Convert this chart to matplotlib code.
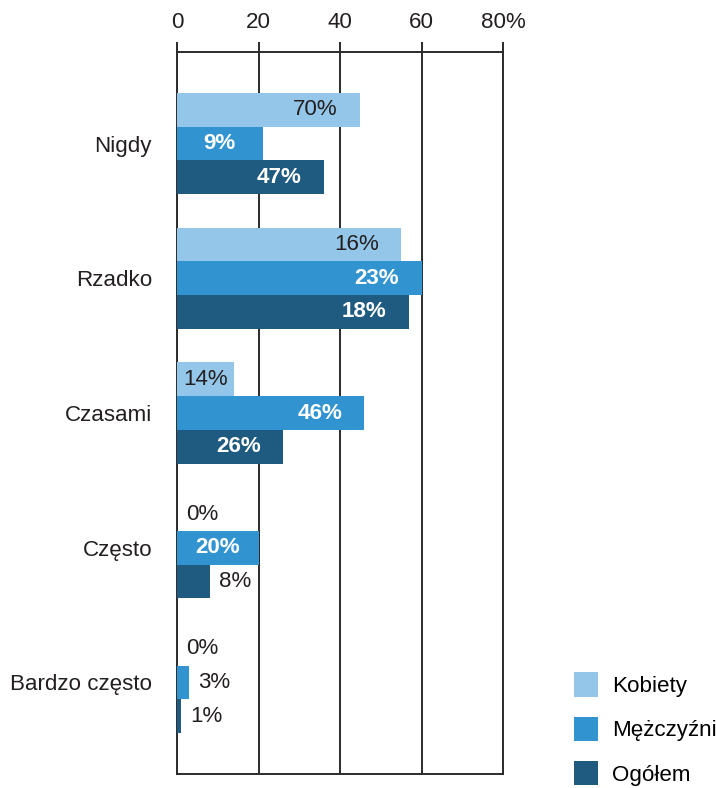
import numpy as np
import matplotlib
matplotlib.use("Agg")
import matplotlib.pyplot as plt
from matplotlib.patches import Patch

plt.rcParams['font.family'] = ['Liberation Sans', 'DejaVu Sans']

# --- Data ---
categories = ["Nigdy", "Rzadko", "Czasami", "Często", "Bardzo często"]
series_names = ["Kobiety", "Mężczyźni", "Ogółem"]

# bar lengths as drawn in the picture
kobiety = [45, 55, 14, 0, 0]
mezczyzni = [21, 60, 46, 20, 3]
ogolem = [36, 57, 26, 8, 1]

# value labels printed on the bars
labels_kobiety = ["70%", "16%", "14%", "0%", "0%"]
labels_mezczyzni = ["9%", "23%", "46%", "20%", "3%"]
labels_ogolem = ["47%", "18%", "26%", "8%", "1%"]

x_ticks = [0, 20, 40, 60, 80]
x_tick_labels = ["0", "20", "40", "60", "80%"]

colors = ["#93C6E8", "#3194D0", "#1F5A80"]
text_dark = "#231F20"
line_color = "#2B2B2B"
fs = 16.1

# --- Plot ---
fig = plt.figure(figsize=(7.16, 7.88), dpi=100)
ax = fig.add_axes([177 / 716, 14 / 788, 326 / 716, 722 / 788])

y = np.arange(len(categories))
h = 0.25
series = [kobiety, mezczyzni, ogolem]
series_labels = [labels_kobiety, labels_mezczyzni, labels_ogolem]

for i, (vals, labs, col) in enumerate(zip(series, series_labels, colors)):
    ypos = y + (i - 1) * h
    ax.barh(ypos, vals, height=h, color=col, zorder=2)
    for yy, v, lab in zip(ypos, vals, labs):
        inside_color = text_dark if i == 0 else "white"
        weight = "normal" if i == 0 else "bold"
        if v >= 24:
            ax.text(v - 5.5, yy, lab, ha="right", va="center", fontsize=fs,
                    color=inside_color, fontweight=weight, zorder=3)
        elif v >= 10:
            ax.text(v / 2, yy, lab, ha="center", va="center", fontsize=fs,
                    color=inside_color, fontweight=weight, zorder=3)
        else:
            ax.text(v + 2.3, yy, lab, ha="left", va="center", fontsize=fs,
                    color=text_dark, zorder=3)

ax.set_xlim(0, 80)
ax.set_ylim(4.68, -0.68)
ax.set_xticks(x_ticks)
ax.set_xticklabels(x_tick_labels, fontsize=fs, color=text_dark)
ax.xaxis.tick_top()
ax.tick_params(axis="x", length=7, width=1.4, color=line_color, pad=6.5)
ax.set_yticks(y)
ax.set_yticklabels(categories, fontsize=fs, color=text_dark)
ax.tick_params(axis="y", length=0, pad=18)

ax.set_axisbelow(True)
ax.grid(axis="x", color=line_color, linewidth=1.4, zorder=0.5)
ax.grid(axis="y", visible=False)
for s in ax.spines.values():
    s.set_color(line_color)
    s.set_linewidth(1.4)
ax.spines["left"].set_zorder(1)

handles = [Patch(facecolor=c, edgecolor="none") for c in colors]
fig.legend(handles, series_names, loc="lower left",
           bbox_to_anchor=(572 / 716, 0.0), frameon=False, fontsize=fs,
           handlelength=1.08, handleheight=1.3, handletextpad=0.6,
           labelspacing=0.88, borderpad=0.1, borderaxespad=0)

fig.savefig("out.png", dpi=100)
